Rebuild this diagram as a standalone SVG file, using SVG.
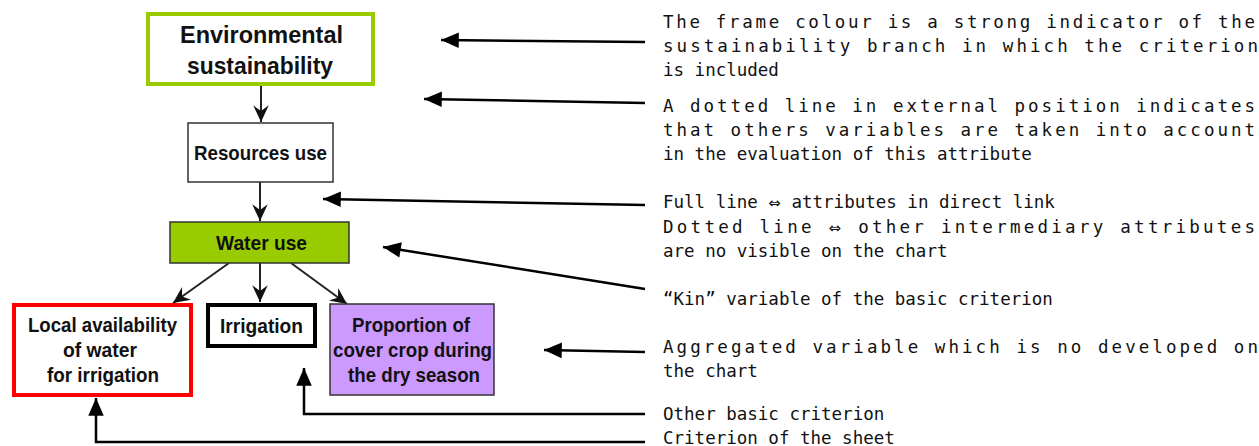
<svg xmlns="http://www.w3.org/2000/svg" width="1259" height="446" viewBox="0 0 1259 446">
<style>
.node{font-family:"Liberation Sans",Arial,sans-serif;font-weight:bold;fill:#111;text-anchor:middle}
.note{font-family:"DejaVu Sans Mono","Liberation Mono",monospace;font-size:17.5px;fill:#111}
.sym{font-family:"DejaVu Sans",sans-serif;font-size:15px}
.tree{stroke:#222;stroke-width:2;fill:none;marker-end:url(#chev)}
.ann{stroke:#000;stroke-width:2.5;fill:none;marker-end:url(#tri)}
</style>
<defs>
<marker id="chev" markerUnits="userSpaceOnUse" markerWidth="20" markerHeight="20" viewBox="-16 -8 18 16" refX="0" refY="0" orient="auto">
<path d="M0,0 L-15,-7 L-10,0 L-15,7 Z" fill="#111"/>
</marker>
<marker id="tri" markerUnits="userSpaceOnUse" markerWidth="20" markerHeight="20" viewBox="-17 -8 18 16" refX="0" refY="0" orient="auto">
<path d="M0,0 L-16,-7 L-16,7 Z" fill="#000"/>
</marker>
</defs>
<rect width="1259" height="446" fill="#fff"/>

<g id="connectors">
<line class="tree" x1="261" y1="85" x2="261" y2="122"/>
<line class="tree" x1="260" y1="182" x2="260" y2="221"/>
<line class="tree" x1="229" y1="263" x2="173" y2="303"/>
<line class="tree" x1="260" y1="263" x2="260" y2="302"/>
<line class="tree" x1="291" y1="263" x2="347" y2="304"/>
<polyline class="ann" points="645,42 441,40"/>
<polyline class="ann" points="645,103 424,99"/>
<polyline class="ann" points="645,205 323,199"/>
<polyline class="ann" points="645,289 383,247"/>
<polyline class="ann" points="645,352 544,350"/>
<polyline class="ann" points="645,414 304,414 304,368"/>
<polyline class="ann" points="645,442 96,442 96,398"/>
</g>

<g id="n-env">
<rect x="148" y="14" width="225" height="70" fill="#fff" stroke="#99cc00" stroke-width="4"/>
<text class="node" x="261.5" y="43" font-size="24.5" textLength="163" lengthAdjust="spacingAndGlyphs">Environmental</text>
<text class="node" x="260" y="74" font-size="24.5" textLength="146" lengthAdjust="spacingAndGlyphs">sustainability</text>
</g>
<g id="n-res">
<rect x="188" y="123" width="145" height="59" fill="#fff" stroke="#333" stroke-width="1.5"/>
<text class="node" x="260.5" y="160" font-size="20.5" textLength="133" lengthAdjust="spacingAndGlyphs">Resources use</text>
</g>
<g id="n-water">
<rect x="170" y="222" width="179" height="41" fill="#99cc00" stroke="#333" stroke-width="1.5"/>
<text class="node" x="261.5" y="250" font-size="20.5" textLength="91" lengthAdjust="spacingAndGlyphs">Water use</text>
</g>
<g id="n-local">
<rect x="14" y="305" width="177" height="90" fill="#fff" stroke="#ff0000" stroke-width="4"/>
<text class="node" x="102.5" y="332" font-size="20.5" textLength="149" lengthAdjust="spacingAndGlyphs">Local availability</text>
<text class="node" x="100" y="357" font-size="20.5" textLength="74" lengthAdjust="spacingAndGlyphs">of water</text>
<text class="node" x="103" y="382" font-size="20.5" textLength="112" lengthAdjust="spacingAndGlyphs">for irrigation</text>
</g>
<g id="n-irr">
<rect x="208" y="305" width="107" height="41" fill="#fff" stroke="#000" stroke-width="4"/>
<text class="node" x="261.5" y="333" font-size="20.5" textLength="83" lengthAdjust="spacingAndGlyphs">Irrigation</text>
</g>
<g id="n-prop">
<rect x="330" y="304" width="164" height="91" fill="#cc99ff" stroke="#333" stroke-width="1.5"/>
<text class="node" x="411" y="332" font-size="20.5" textLength="118" lengthAdjust="spacingAndGlyphs">Proportion of</text>
<text class="node" x="412.5" y="357" font-size="20.5" textLength="159" lengthAdjust="spacingAndGlyphs">cover crop during</text>
<text class="node" x="414" y="382" font-size="20.5" textLength="132" lengthAdjust="spacingAndGlyphs">the dry season</text>
</g>

<g id="notes">
<text class="note" x="663" y="28" textLength="592" lengthAdjust="spacing">The frame colour is a strong indicator of the</text>
<text class="note" x="663" y="52" textLength="595" lengthAdjust="spacing">sustainability branch in which the criterion</text>
<text class="note" x="663" y="76">is included</text>
<text class="note" x="663" y="112" textLength="592" lengthAdjust="spacing">A dotted line in external position indicates</text>
<text class="note" x="663" y="136" textLength="592" lengthAdjust="spacing">that others variables are taken into account</text>
<text class="note" x="663" y="160">in the evaluation of this attribute</text>
<text class="note" x="663" y="208">Full line <tspan class="sym">⇔</tspan> attributes in direct link</text>
<text class="note" x="663" y="233" textLength="592" lengthAdjust="spacing">Dotted line <tspan class="sym">⇔</tspan> other intermediary attributes</text>
<text class="note" x="663" y="257">are no visible on the chart</text>
<text class="note" x="663" y="305">“Kin” variable of the basic criterion</text>
<text class="note" x="663" y="353" textLength="595" lengthAdjust="spacing">Aggregated variable which is no developed on</text>
<text class="note" x="663" y="377">the chart</text>
<text class="note" x="663" y="420">Other basic criterion</text>
<text class="note" x="663" y="444">Criterion of the sheet</text>
</g>
</svg>
